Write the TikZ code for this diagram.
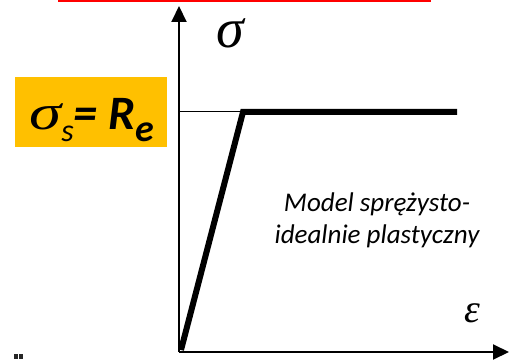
\documentclass[tikz,border=0pt]{standalone}
\usepackage{fontspec}
\setmainfont{Carlito}
\newfontfamily\greekfont{Liberation Serif}
\usetikzlibrary{arrows.meta}
\definecolor{boxyellow}{RGB}{255,192,0}
\definecolor{topred}{RGB}{255,0,0}
\tikzset{
  axis/.style={line width=2pt,-{Triangle[length=16pt,width=15pt]}},
  curve/.style={line width=6pt,line join=miter},
  thin/.style={line width=1pt},
  dotmark/.style={fill=black!85,draw=none},
}
\begin{document}
\begin{tikzpicture}[x=1pt,y=1pt]
\useasboundingbox (0,0) rectangle (513,359);
% top red line
\coordinate (r1) at (58,358);
\coordinate (r2) at (431,358);
\draw[topred,line width=2pt] (r1) -- (r2);
% axes
\coordinate (O) at (179,7);
\coordinate (Ytop) at (179,353);
\coordinate (Xend) at (509,7);
\draw[axis] (O) -- (Ytop);
\draw[axis] (O) -- (Xend);
% labels
\node[inner sep=0pt] (sig) at (230,326) {\fontsize{56}{56}\selectfont\greekfont\itshape σ};
\node[inner sep=0pt] (eps) at (472,46) {\fontsize{40}{40}\selectfont\greekfont\itshape ε};
% yield line and model
\coordinate (A) at (181,9);
\coordinate (B) at (243,247);
\coordinate (C) at (457,247);
\coordinate (Yl) at (179,247);
\draw[thin] (Yl) -- (B);
\draw[curve] (A) -- (B) -- (C);
% yellow box
\node[fill=boxyellow,minimum width=152pt,minimum height=70pt,inner sep=0pt] (box) at (91,247) {};
\node[anchor=base west,inner sep=0pt] (boxtext) at (29,229) {\scalebox{1.3}[1]{\fontsize{50}{50}\selectfont\greekfont\itshape σ}\raisebox{-12pt}{\fontsize{32}{32}\selectfont\itshape s}{\fontsize{48}{48}\selectfont\bfseries\itshape = R}\raisebox{-12pt}{\fontsize{38}{38}\selectfont\bfseries\itshape e}};
% model text
\node[align=center,anchor=base,inner sep=0pt,font=\fontsize{27}{32}\selectfont\itshape] (model) at (377,116) {Model sprężysto-\\idealnie plastyczny};
% stray mark (clipped glyph at bottom edge)
\fill[dotmark] (14,0) rectangle (18,5);
\fill[dotmark] (19,0) rectangle (23,5);
\end{tikzpicture}
\end{document}
